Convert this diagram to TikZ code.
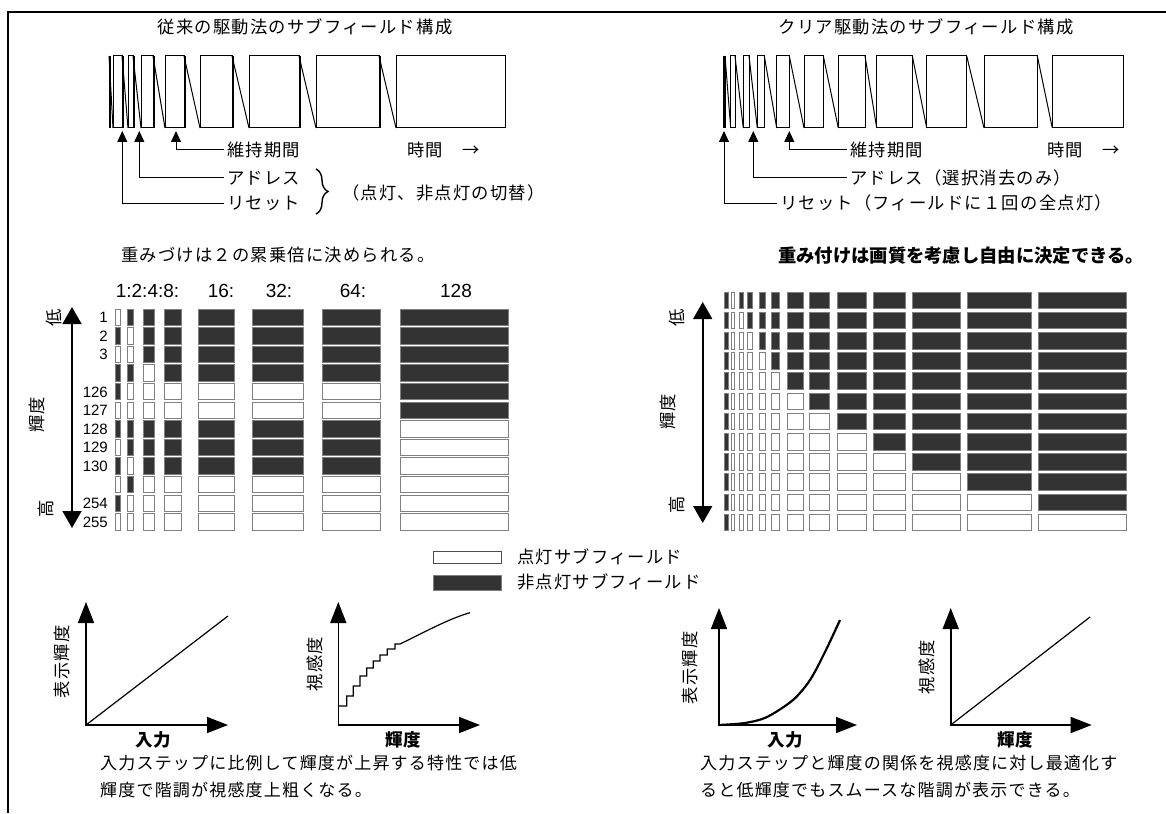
\documentclass[tikz,border=0pt]{standalone}
\usepackage{fontspec}
\setmainfont{Liberation Sans}
\newfontfamily\jp{Noto Sans CJK JP}
\newfontfamily\jpls[LetterSpace=7]{Noto Sans CJK JP}
\usetikzlibrary{arrows.meta,decorations.pathreplacing}
\definecolor{dk}{RGB}{51,51,51}
\definecolor{edge}{RGB}{128,128,128}
\begin{document}
\begin{tikzpicture}[x=1pt,y=-1pt,
 mt/.style={font=\jpls\fontsize{17.3}{19}\selectfont, inner sep=0pt, anchor=west},
 bt/.style={font=\jpls\fontsize{17}{27}\selectfont, inner sep=0pt, anchor=west, align=left},
 gb/.style={font=\jp\bfseries\fontsize{17.5}{19}\selectfont, inner sep=0pt},
 rl/.style={font=\jpls\fontsize{17.3}{19}\selectfont, inner sep=0pt, rotate=90},
 num/.style={font=\fontsize{15}{16}\selectfont, inner sep=0pt, anchor=east},
 hdr/.style={font=\fontsize{19}{20}\selectfont, inner sep=0pt},
 lit/.style={draw=edge, fill=white, line width=1pt},
 unlit/.style={draw=edge, fill=dk, line width=1pt},
 sarrow/.style={line width=1pt, -{Triangle[width=10pt,length=11pt]}},
 carrow/.style={line width=1.6pt, {Triangle[width=19pt,length=17pt]}-{Triangle[width=19pt,length=17pt]}},
 garrow/.style={line width=1.6pt, line join=miter, {Triangle[width=16pt,length=21pt]}-{Triangle[width=16pt,length=21pt]}},
 sf/.style={line width=1pt},
]
\useasboundingbox (0,0) rectangle (1166,813);
% frame
\draw[line width=2pt] (8,813) -- (8,12) -- (1166,12);

% ---------- titles ----------
\node[mt, anchor=center] (t1) at (305,27) {従来の駆動法のサブフィールド構成};
\node[mt, anchor=center] (t2) at (926,27) {クリア駆動法のサブフィールド構成};

% ---------- conventional subfield structure ----------
\foreach \r/\b/\e in {109/113/122, 122/128/133, 133/141/153, 153/165/184, 184/200/232, 232/249/299, 299/316/379, 379/396/505}{
  \draw[sf] (\r,56) -- (\b,128);
  \draw[sf] (\b,56) rectangle (\e,128);
  \draw[line width=2.5pt] (\r+1,56) -- (\r+1,128);
}
\node[mt] (lsus) at (227,150) {維持期間};
\node[mt] (ladr) at (227,178) {アドレス};
\node[mt] (lrst) at (227,203) {リセット};
\node[mt] (ltime) at (407,150) {時間　→};
\coordinate (lsusT) at (176,131);
\coordinate (ladrT) at (139.3,131);
\coordinate (lrstT) at (122.3,131);
\draw[sarrow] ([xshift=-3pt]lsus.west) -| (lsusT);
\draw[sarrow] ([xshift=-3pt]ladr.west) -| (ladrT);
\draw[sarrow] ([xshift=-3pt]lrst.west) -| (lrstT);
\draw[line width=1.4pt, decorate, decoration={brace, amplitude=12pt}] (316,169) -- (316,214);
\node[mt] (lsw) at (342,193) {（点灯、非点灯の切替）};

% ---------- clear subfield structure ----------
\draw[line width=3pt] (724,56) -- (724,128);
\foreach \r/\b/\e in {725/730.7/735, 735/743.3/749, 749/757.3/764.3, 764.3/776.7/789.3, 789.3/804/823.3, 823.3/838.3/865, 865/876.7/912.3, 912.3/926.7/966.7, 966.7/984/1037.3, 1037.3/1052.3/1123.3}{
  \draw[sf] (\r,56) -- (\b,128);
  \draw[sf] (\b,56) rectangle (\e,128);
}
\node[mt] (rsus) at (850,150) {維持期間};
\node[mt] (radr) at (850,178) {アドレス（選択消去のみ）};
\node[mt] (rrst) at (780,203) {リセット（フィールドに１回の全点灯）};
\node[mt] (rtime) at (1047,150) {時間　→};
\coordinate (rsusT) at (789.3,131);
\coordinate (radrT) at (753.3,131);
\coordinate (rrstT) at (724,131);
\draw[sarrow] ([xshift=-3pt]rsus.west) -| (rsusT);
\draw[sarrow] ([xshift=-3pt]radr.west) -| (radrT);
\draw[sarrow] ([xshift=-3pt]rrst.west) -| (rrstT);

% ---------- weighting texts ----------
\node[mt] (lw) at (121,255) {重みづけは２の累乗倍に決められる。};
\node[font=\jp\bfseries\fontsize{18.3}{20}\selectfont, inner sep=0pt, anchor=west] (rw) at (778,256) {重み付けは画質を考慮し自由に決定できる。};

% ---------- left chart ----------
\node[hdr] (h1) at (147.5,291) {1:2:4:8:};
\node[hdr] (h2) at (221,291) {16:};
\node[hdr] (h3) at (279,291) {32:};
\node[hdr] (h4) at (353,291) {64:};
\node[hdr] (h5) at (456,291) {128};
\foreach \v [count=\i from 0] in {1,2,3,4,126,127,128,129,130,253,254,255}{
  \foreach \c/\xa/\xb in {0/115.7/120,1/127.7/133.7,2/143/154,3/164/181,4/198/234,5/252/303,6/322/380,7/400/508}{
    \pgfmathtruncatemacro\bit{mod(floor(\v/pow(2,\c)),2)}
    \pgfmathsetmacro\yt{309+\i*18.6}
    \ifnum\bit=1
      \draw[lit] (\xa,\yt) rectangle (\xb,\yt+16.5);
    \else
      \draw[unlit] (\xa,\yt) rectangle (\xb,\yt+16.5);
    \fi
  }
}
\foreach \i/\lab in {0/1,1/2,2/3,4/126,5/127,6/128,7/129,8/130,10/254,11/255}{
  \node[num] (lab\i) at (108,309+\i*18.6+8.5) {\lab};
}
\coordinate (laTop) at (72,307);
\coordinate (laBot) at (72,528);
\draw[carrow] (laTop) -- (laBot);
\node[rl] (llo) at (54,318) {低};
\node[rl] (lmid) at (37,415) {輝度};
\node[rl] (lhi) at (46,509) {高};

% ---------- right chart ----------
\foreach \r in {0,...,11}{
  \foreach \c/\xa/\xb in {0/724/728, 1/731.7/734.7, 2/739/743, 3/747/752, 4/759/765, 5/771/779, 6/787/803, 7/809/829, 8/837/866, 9/873/905, 10/912/960, 11/967/1031, 12/1038/1126}{
    \pgfmathsetmacro\yt{292+\r*20.2}
    \pgfmathtruncatemacro\lt{and(\c>0,\c<=\r+1)}
    \ifnum\lt=1
      \draw[lit] (\xa,\yt) rectangle (\xb,\yt+16.7);
    \else
      \draw[unlit] (\xa,\yt) rectangle (\xb,\yt+16.7);
    \fi
  }
}
\coordinate (raTop) at (702.7,302);
\coordinate (raBot) at (702.7,523);
\draw[carrow] (raTop) -- (raBot);
\node[rl] (rlo) at (677,318) {低};
\node[rl] (rmid) at (668,412) {輝度};
\node[rl] (rhi) at (677,505) {高};

% ---------- legend ----------
\draw[lit, draw=black!70] (433.3,551.7) rectangle (501.7,563.3);
\draw[unlit] (433.3,575) rectangle (501.7,590.7);
\node[mt] (lg1) at (517,557) {点灯サブフィールド};
\node[mt] (lg2) at (517,582) {非点灯サブフィールド};

% ---------- graph 1 ----------
\coordinate (g1o) at (86,725);
\coordinate (g1y) at (86,602);
\coordinate (g1x) at (228,725);
\coordinate (g1e) at (228,616);
\draw[garrow] (g1y) -- (g1o) -- (g1x);
\draw[line width=1.2pt] (g1o) -- (g1e);
\node[rl] (g1l) at (62,662) {表示輝度};
\node[gb] (g1b) at (153,740) {入力};

% ---------- graph 2 ----------
\coordinate (g2o) at (338.3,725);
\coordinate (g2y) at (338.3,602);
\coordinate (g2x) at (480,725);
\draw[garrow] (g2y) -- (g2o) -- (g2x);
\draw[line width=1.2pt] (338.3,706) -| (346.7,696) -| (353.3,686) -| (360,676) -| (366.7,668) -| (373.3,661) -| (380,655) -| (387.3,649) -| (395,644) -- (400,644) .. controls (425,632) and (448,619) .. (470,612.7);
\node[rl] (g2l) at (315,664) {視感度};
\node[gb] (g2b) at (403,740) {輝度};

% ---------- graph 3 ----------
\coordinate (g3o) at (719,725);
\coordinate (g3y) at (719,608);
\coordinate (g3x) at (857,725);
\draw[garrow] (g3y) -- (g3o) -- (g3x);
\draw[line width=2.2pt] plot[smooth] coordinates {(719,725) (745,723) (767,717) (793,700) (810,680) (825,652) (840,620)};
\node[rl] (g3l) at (690,668) {表示輝度};
\node[gb] (g3b) at (785,740) {入力};

% ---------- graph 4 ----------
\coordinate (g4o) at (950.7,725);
\coordinate (g4y) at (950.7,608);
\coordinate (g4x) at (1091.7,725);
\coordinate (g4e) at (1090,617);
\draw[garrow] (g4y) -- (g4o) -- (g4x);
\draw[line width=1.2pt] (g4o) -- (g4e);
\node[rl] (g4l) at (926.7,667) {視感度};
\node[gb] (g4b) at (1015,740) {輝度};

% ---------- bottom texts ----------
\node[bt] (bl) at (100,776.5) {入力ステップに比例して輝度が上昇する特性では低\\輝度で階調が視感度上粗くなる。};
\node[bt] (br) at (700,776.5) {入力ステップと輝度の関係を視感度に対し最適化す\\ると低輝度でもスムースな階調が表示できる。};
\end{tikzpicture}
\end{document}
